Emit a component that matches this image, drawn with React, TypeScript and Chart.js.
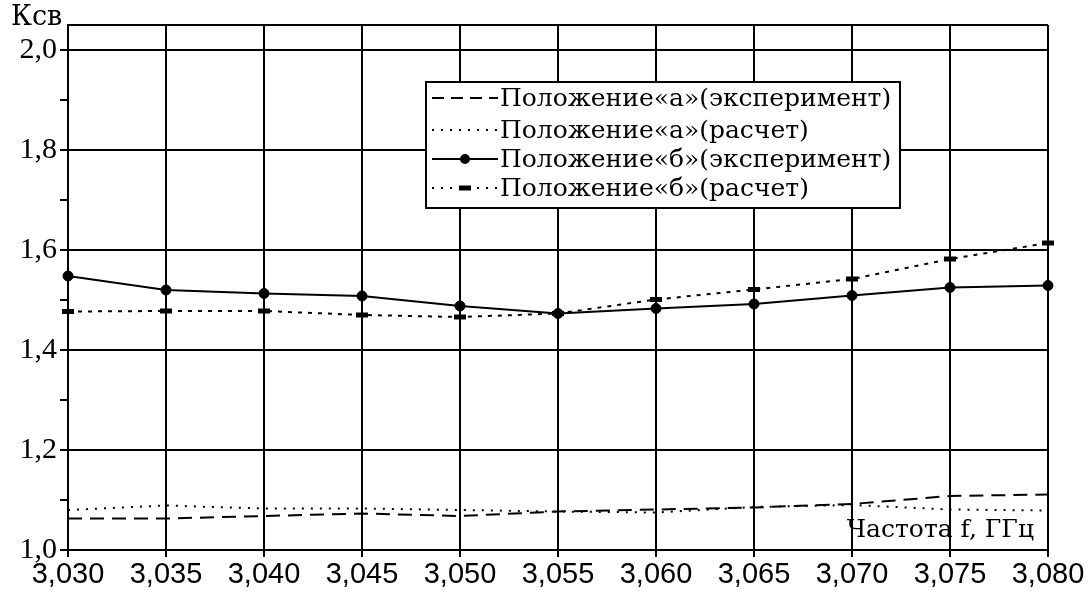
import React, { useEffect, useRef } from 'react';
import { Chart, registerables } from 'chart.js';

Chart.register(...registerables);

const frequencies = [3.03, 3.035, 3.04, 3.045, 3.05, 3.055, 3.06, 3.065, 3.07, 3.075, 3.08];
const posAExp = [1.063, 1.063, 1.068, 1.073, 1.068, 1.077, 1.081, 1.085, 1.092, 1.108, 1.111];
const posACalc = [1.080, 1.089, 1.083, 1.083, 1.080, 1.077, 1.075, 1.086, 1.090, 1.081, 1.079];
const posBExp = [1.548, 1.520, 1.513, 1.508, 1.488, 1.473, 1.483, 1.492, 1.509, 1.525, 1.529];
const posBCalc = [1.477, 1.478, 1.478, 1.470, 1.466, 1.473, 1.501, 1.521, 1.542, 1.582, 1.614];
const seriesNames = [
  'Положение«а»(эксперимент)',
  'Положение«а»(расчет)',
  'Положение«б»(эксперимент)',
  'Положение«б»(расчет)',
];
const xTickValues = [3.03, 3.035, 3.04, 3.045, 3.05, 3.055, 3.06, 3.065, 3.07, 3.075, 3.08];
const yTickValues = [1.0, 1.1, 1.2, 1.3, 1.4, 1.5, 1.6, 1.7, 1.8, 1.9, 2.0];
const yMin = 1.0;
const yMax = 2.05;
const yAxisTitle = 'Ксв';
const xAxisTitle = 'Частота f, ГГц';

const DASH_A_EXP = [14, 8];
const DASH_A_CALC = [2, 7];
const DASH_B_CALC = [4, 6];

const isMajorY = (v: number) => Math.round(v * 10) % 2 === 0 || v > 2.01;

const overlayPlugin = {
  id: 'overlay',
  afterDraw(chart: any) {
    const ctx = chart.ctx as CanvasRenderingContext2D;
    const area = chart.chartArea;
    ctx.save();
    // axis titles
    ctx.fillStyle = '#000';
    ctx.font = '27px "DejaVu Serif"';
    ctx.textAlign = 'left';
    ctx.textBaseline = 'alphabetic';
    ctx.fillText(yAxisTitle, 11, 25);
    ctx.font = '25px "DejaVu Serif"';
    ctx.textAlign = 'right';
    ctx.fillText(xAxisTitle, area.right - 14, area.bottom - 13);

    // legend box
    const bx = area.left + 358;
    const by = area.top + 57;
    const bw = 474;
    const bh = 126;
    ctx.fillStyle = '#fff';
    ctx.fillRect(bx, by, bw, bh);
    ctx.strokeStyle = '#000';
    ctx.lineWidth = 2;
    ctx.setLineDash([]);
    ctx.strokeRect(bx, by, bw, bh);

    const rows = [by + 16, by + 48, by + 77, by + 106];
    const sx0 = bx + 6;
    const sx1 = bx + 72;
    const mid = (sx0 + sx1) / 2;
    ctx.lineWidth = 2;
    // row 1: dashed
    ctx.setLineDash([12, 7]);
    ctx.beginPath(); ctx.moveTo(sx0, rows[0]); ctx.lineTo(sx1, rows[0]); ctx.stroke();
    // row 2: dotted
    ctx.setLineDash(DASH_A_CALC);
    ctx.beginPath(); ctx.moveTo(sx0, rows[1]); ctx.lineTo(sx1, rows[1]); ctx.stroke();
    // row 3: solid with dot
    ctx.setLineDash([]);
    ctx.beginPath(); ctx.moveTo(sx0, rows[2]); ctx.lineTo(sx1, rows[2]); ctx.stroke();
    ctx.fillStyle = '#000';
    ctx.beginPath(); ctx.arc(mid, rows[2], 5, 0, Math.PI * 2); ctx.fill();
    // row 4: dotted with dash marker
    ctx.setLineDash([2, 7]);
    ctx.beginPath(); ctx.moveTo(sx0, rows[3]); ctx.lineTo(sx1, rows[3]); ctx.stroke();
    ctx.setLineDash([]);
    ctx.lineWidth = 5;
    ctx.beginPath(); ctx.moveTo(mid - 6, rows[3]); ctx.lineTo(mid + 6, rows[3]); ctx.stroke();

    ctx.font = '25px "DejaVu Serif"';
    ctx.textAlign = 'left';
    ctx.textBaseline = 'middle';
    ctx.fillStyle = '#000';
    seriesNames.forEach((name, i) => {
      ctx.fillText(name, sx1 + 2, rows[i] + 1);
    });
    ctx.restore();
  },
};

export default function App() {
  const canvasRef = useRef<HTMLCanvasElement | null>(null);

  useEffect(() => {
    if (!canvasRef.current) return;
    const toXY = (ys: number[]) => frequencies.map((f, i) => ({ x: f, y: ys[i] }));
    const chart = new Chart(canvasRef.current, {
      type: 'line',
      data: {
        datasets: [
          {
            label: seriesNames[0],
            data: toXY(posAExp),
            borderColor: '#000',
            borderWidth: 2,
            borderDash: DASH_A_EXP,
            pointRadius: 0,
            fill: false,
          },
          {
            label: seriesNames[1],
            data: toXY(posACalc),
            borderColor: '#000',
            borderWidth: 2,
            borderDash: DASH_A_CALC,
            pointRadius: 0,
            fill: false,
          },
          {
            label: seriesNames[3],
            data: toXY(posBCalc),
            borderColor: '#000',
            borderWidth: 2,
            borderDash: DASH_B_CALC,
            pointStyle: 'line',
            pointRadius: 6,
            pointBorderWidth: 5,
            pointBorderColor: '#000',
            pointBackgroundColor: '#000',
            fill: false,
          },
          {
            label: seriesNames[2],
            data: toXY(posBExp),
            borderColor: '#000',
            borderWidth: 2,
            pointStyle: 'circle',
            pointRadius: 5,
            pointBorderWidth: 1,
            pointBorderColor: '#000',
            pointBackgroundColor: '#000',
            fill: false,
          },
        ],
      },
      options: {
        responsive: false,
        animation: false,
        clip: false,
        layout: { padding: { top: 25, right: 42, left: 0, bottom: 0 } },
        plugins: {
          legend: { display: false },
          tooltip: { enabled: false },
          title: { display: false },
        },
        scales: {
          x: {
            type: 'linear',
            min: frequencies[0],
            max: frequencies[frequencies.length - 1],
            afterBuildTicks: (scale: any) => {
              scale.ticks = xTickValues.map((v) => ({ value: v }));
            },
            afterFit: (scale: any) => {
              scale.height = 45;
            },
            ticks: {
              autoSkip: false,
              maxRotation: 0,
              padding: 1,
              color: '#000',
              font: { family: '"Liberation Sans"', size: 29 },
              callback: (v: any) => Number(v).toFixed(3).replace('.', ','),
            },
            grid: {
              color: '#000',
              lineWidth: 2,
              tickLength: 7,
              tickColor: '#000',
            },
            border: { display: true, color: '#000', width: 2 },
          },
          y: {
            type: 'linear',
            min: yMin,
            max: yMax,
            afterBuildTicks: (scale: any) => {
              scale.ticks = [...yTickValues, yMax].map((v) => ({ value: v }));
            },
            afterFit: (scale: any) => {
              scale.width = 68;
            },
            ticks: {
              autoSkip: false,
              padding: 3,
              color: '#000',
              font: { family: '"Liberation Serif"', size: 30 },
              callback: (v: any) => {
                const n = Number(v);
                if (n > 2.01) return '';
                return isMajorY(n) ? n.toFixed(1).replace('.', ',') : '';
              },
            },
            grid: {
              lineWidth: 2,
              tickLength: 8,
              color: (c: any) => (c.tick && isMajorY(c.tick.value) ? '#000' : 'rgba(0,0,0,0)'),
              tickColor: (c: any) => (c.tick && c.tick.value > 2.01 ? 'rgba(0,0,0,0)' : '#000'),
            },
            border: { display: true, color: '#000', width: 2 },
          },
        },
      },
      plugins: [overlayPlugin],
    } as any);
    return () => chart.destroy();
  }, []);

  return (
    <div style={{ position: 'fixed', left: 0, top: 0, width: 1090, height: 595, background: '#fff' }}>
      <canvas ref={canvasRef} width={1090} height={595} />
    </div>
  );
}
